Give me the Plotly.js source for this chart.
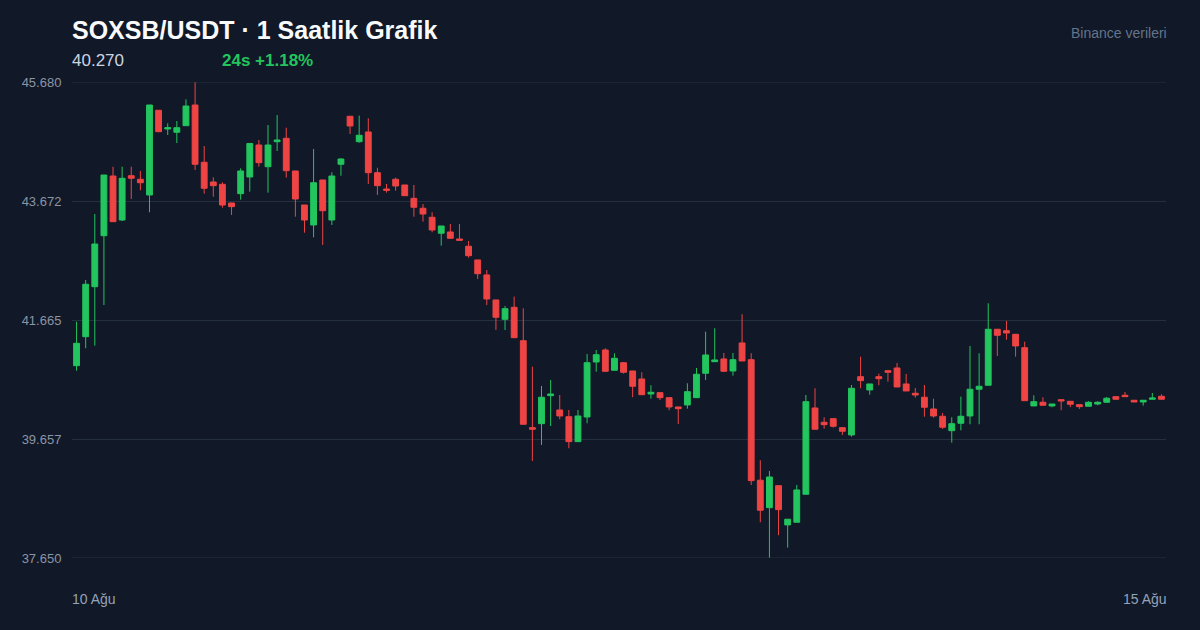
<!DOCTYPE html>
<html>
<head>
<meta charset="utf-8">
<script src="https://cdn.plot.ly/plotly-3.0.1.min.js"></script>
<style>
  html, body { margin: 0; padding: 0; background: #111827; }
  #chart { width: 1200px; height: 630px; }
</style>
</head>
<body>
<div id="chart"></div>
<script>
// hourly candles, SOXSB/USDT
const opens = [40.894, 41.384, 42.227, 43.087, 44.094, 43.352, 44.099, 44.039, 43.774, 45.203,
  44.887, 44.832, 44.943, 45.292, 44.326, 43.993, 43.954, 43.639, 43.796, 44.078,
  44.617, 44.251, 44.673, 44.730, 44.179, 43.605, 43.268, 44.027, 43.352, 44.292,
  45.102, 44.673, 44.837, 44.150, 43.875, 44.039, 43.943, 43.718, 43.550, 43.398,
  43.128, 43.150, 43.032, 42.909, 42.678, 42.425, 42.003, 41.677, 41.880, 41.316,
  39.849, 39.916, 40.389, 40.147, 40.034, 39.613, 40.029, 40.957, 41.159, 40.817,
  40.945, 40.805, 40.670, 40.417, 40.439, 40.355, 40.198, 40.232, 40.355, 40.766,
  40.962, 41.008, 40.805, 41.278, 40.996, 38.962, 38.499, 38.870, 38.208, 38.253,
  38.725, 40.181, 39.940, 40.001, 39.849, 39.726, 40.709, 40.485, 40.709, 40.810,
  40.856, 40.586, 40.429, 40.362, 40.164, 40.041, 39.798, 39.923, 40.046, 40.497,
  40.564, 41.509, 41.485, 41.424, 41.198, 40.215, 40.277, 40.215, 40.321, 40.294,
  40.237, 40.210, 40.248, 40.277, 40.372, 40.395, 40.311, 40.282, 40.328, 40.378];

const highs = [41.637, 42.340, 43.453, 44.111, 44.251, 44.251, 44.251, 44.179, 45.292, 45.203,
  44.983, 45.022, 45.388, 45.675, 44.600, 44.072, 43.988, 43.639, 44.224, 44.643,
  44.702, 44.955, 45.123, 44.909, 44.179, 43.605, 44.550, 44.027, 44.157, 44.393,
  45.102, 45.112, 45.068, 44.234, 43.960, 44.066, 43.943, 43.943, 43.622, 43.482,
  43.251, 43.285, 43.285, 42.998, 42.678, 42.509, 42.003, 41.902, 42.059, 41.863,
  40.878, 40.552, 40.653, 40.400, 40.147, 40.147, 41.092, 41.159, 41.188, 41.104,
  40.957, 40.805, 40.783, 40.564, 40.439, 40.355, 40.198, 40.598, 40.856, 41.468,
  41.525, 41.109, 41.109, 41.762, 41.104, 39.299, 39.118, 38.870, 38.304, 38.882,
  40.400, 40.513, 40.024, 40.001, 39.849, 40.569, 41.046, 40.586, 40.760, 40.810,
  40.940, 40.755, 40.518, 40.569, 40.338, 40.097, 40.024, 40.372, 41.227, 41.104,
  41.947, 41.509, 41.649, 41.424, 41.299, 40.395, 40.362, 40.248, 40.321, 40.294,
  40.237, 40.294, 40.294, 40.367, 40.372, 40.451, 40.311, 40.311, 40.434, 40.412];

const lows = [40.810, 41.188, 41.232, 41.918, 43.324, 43.335, 43.706, 43.853, 43.482, 44.832,
  44.786, 44.651, 44.943, 44.196, 43.796, 43.745, 43.560, 43.437, 43.695, 43.830,
  44.251, 43.813, 44.516, 44.066, 43.408, 43.138, 43.060, 42.931, 43.268, 44.099,
  44.803, 44.656, 43.960, 43.774, 43.813, 43.846, 43.762, 43.408, 43.324, 43.145,
  42.919, 43.032, 43.010, 42.716, 42.357, 41.918, 41.497, 41.497, 41.367, 39.906,
  39.287, 39.557, 39.877, 39.990, 39.501, 39.613, 39.923, 40.793, 40.788, 40.817,
  40.760, 40.362, 40.405, 40.338, 40.316, 40.142, 39.911, 40.169, 40.355, 40.653,
  40.962, 40.788, 40.726, 40.974, 38.882, 38.253, 37.656, 38.034, 37.825, 38.253,
  38.725, 39.822, 39.832, 39.849, 39.726, 39.697, 40.513, 40.405, 40.564, 40.625,
  40.535, 40.468, 40.355, 40.034, 40.017, 39.827, 39.596, 39.805, 39.906, 39.906,
  40.564, 41.058, 41.333, 41.046, 40.304, 40.215, 40.227, 40.193, 40.142, 40.193,
  40.164, 40.210, 40.227, 40.277, 40.328, 40.372, 40.282, 40.220, 40.328, 40.328];

const closes = [41.272, 42.268, 42.947, 44.111, 43.324, 44.056, 44.056, 43.981, 45.292, 44.842,
  44.909, 44.909, 45.275, 44.292, 43.887, 43.931, 43.605, 43.577, 44.179, 44.643,
  44.319, 44.617, 44.702, 44.184, 43.706, 43.352, 43.981, 43.509, 44.094, 44.381,
  44.938, 44.781, 44.150, 43.931, 43.853, 43.926, 43.762, 43.567, 43.453, 43.184,
  43.251, 43.044, 43.010, 42.750, 42.446, 42.020, 41.711, 41.856, 41.367, 39.906,
  39.822, 40.362, 40.417, 40.046, 39.613, 40.046, 40.945, 41.080, 40.800, 41.019,
  40.783, 40.547, 40.405, 40.446, 40.355, 40.198, 40.169, 40.456, 40.750, 41.075,
  40.991, 40.800, 40.996, 40.974, 38.955, 38.456, 39.017, 38.466, 38.304, 38.798,
  40.287, 39.822, 39.899, 39.872, 39.788, 40.513, 40.642, 40.586, 40.675, 40.783,
  40.535, 40.468, 40.400, 40.193, 40.046, 39.856, 39.916, 40.041, 40.497, 40.547,
  41.509, 41.407, 41.446, 41.227, 40.304, 40.287, 40.227, 40.248, 40.299, 40.243,
  40.203, 40.277, 40.277, 40.345, 40.328, 40.372, 40.282, 40.311, 40.350, 40.328];

const priceTicks = [37.650, 39.657, 41.665, 43.672, 45.680];
const dateLabels = ['10 Ağu', '15 Ağu'];

const titleText = 'SOXSB/USDT · 1 Saatlik Grafik';
const lastPrice = '40.270';
const change24 = '24s +1.18%';
const sourceText = 'Binance verileri';

const GREEN = '#22c55e';
const RED = '#ef4444';
const GRID = '#243040';
const FONT = '"Liberation Sans", Arial, Helvetica, sans-serif';

// candle index on the x axis
let xs = [];
for (let i = 0; i < opens.length; i++) {
  xs.push(i);
}

var candles = [{
  type: 'candlestick',
  x: xs,
  open: opens,
  high: highs,
  low: lows,
  close: closes,
  increasing: {line: {color: GREEN, width: 1}, fillcolor: GREEN},
  decreasing: {line: {color: RED, width: 1}, fillcolor: RED},
  whiskerwidth: 0,
  hoverinfo: 'skip'
}];

// plotly skips gridlines sitting on the plot edge, so draw the top/bottom ones as shapes
let edgeLines = [priceTicks[0], priceTicks[priceTicks.length - 1]].map(function (v) {
  return {
    type: 'line', xref: 'paper', yref: 'y', x0: 0, x1: 1, y0: v, y1: v,
    line: {color: GRID, width: 1}, layer: 'below'
  };
});

var layout = {
  width: 1200,
  height: 630,
  paper_bgcolor: '#111827',
  plot_bgcolor: '#111827',
  margin: {l: 72, r: 34, t: 82, b: 72},
  font: {family: FONT, color: '#9ca3af'},
  showlegend: false,
  boxgap: 0.2,
  boxgroupgap: 0.2,
  title: {
    text: titleText,
    font: {family: FONT, size: 25, color: '#f9fafb', weight: 'bold'},
    x: 72 / 1200,
    xanchor: 'left',
    xref: 'container',
    y: 1 - 30 / 630,
    yanchor: 'middle',
    yref: 'container'
  },
  xaxis: {
    range: [-0.5, opens.length - 0.5],
    showgrid: false,
    zeroline: false,
    showticklabels: false,
    showline: false,
    rangeslider: {visible: false},
    fixedrange: true
  },
  yaxis: {
    range: [priceTicks[0], priceTicks[priceTicks.length - 1]],
    tickvals: priceTicks,
    tickformat: '.3f',
    showgrid: true,
    gridcolor: GRID,
    gridwidth: 1,
    zeroline: false,
    showline: false,
    ticks: 'outside',
    ticklen: 7,
    tickcolor: 'rgba(0,0,0,0)',
    tickfont: {family: FONT, size: 13, color: '#8b95a5'},
    fixedrange: true
  },
  shapes: edgeLines,
  annotations: [
    {
      text: lastPrice, xref: 'paper', yref: 'paper', x: 0, y: (558 - 61) / 476, xshift: -2,
      xanchor: 'left', yanchor: 'middle', showarrow: false,
      font: {family: FONT, size: 17, color: '#cbd5e1'}
    },
    {
      text: change24, xref: 'paper', yref: 'paper', x: (222 - 72) / 1094, y: (558 - 61) / 476, xshift: -2,
      xanchor: 'left', yanchor: 'middle', showarrow: false,
      font: {family: FONT, size: 17, color: GREEN, weight: 'bold'}
    },
    {
      text: sourceText, xref: 'paper', yref: 'paper', x: 1, y: (558 - 33) / 476, xshift: 3,
      xanchor: 'right', yanchor: 'middle', showarrow: false,
      font: {family: FONT, size: 14, color: '#64748b'}
    },
    {
      text: dateLabels[0], xref: 'paper', yref: 'paper', x: 0, y: -(599 - 558) / 476, xshift: -2,
      xanchor: 'left', yanchor: 'middle', showarrow: false,
      font: {family: FONT, size: 14, color: '#94a3b8'}
    },
    {
      text: dateLabels[1], xref: 'paper', yref: 'paper', x: 1, y: -(599 - 558) / 476, xshift: 3,
      xanchor: 'right', yanchor: 'middle', showarrow: false,
      font: {family: FONT, size: 14, color: '#94a3b8'}
    }
  ]
};

Plotly.newPlot('chart', candles, layout, {displayModeBar: false, staticPlot: true});
</script>
</body>
</html>
